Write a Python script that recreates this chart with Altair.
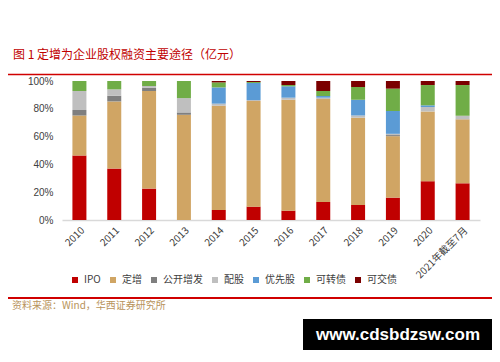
import altair as alt
import pandas as pd

years = ["2010", "2011", "2012", "2013", "2014", "2015", "2016", "2017",
         "2018", "2019", "2020", "2021年截至7月"]
categories = ["IPO", "定增", "公开增发", "配股", "优先股", "可转债", "可交债"]
colors = ["#C00000", "#D0A564", "#7F7F7F", "#BFBFBF", "#5B9BD5", "#70AD47", "#7B0000"]

ipo      = [46.4, 37.0, 22.6, 0.0, 7.2, 9.6, 6.7, 13.0, 10.8, 16.1, 27.9, 26.4]
dingzeng = [28.8, 48.3, 70.2, 75.7, 75.0, 76.0, 79.8, 74.0, 62.8, 44.2, 50.2, 46.0]
gongkai  = [3.9, 4.1, 2.4, 1.7, 0.0, 0.0, 0.0, 0.0, 0.0, 0.8, 0.0, 0.0]
peigu    = [13.7, 4.6, 1.2, 10.3, 1.5, 0.7, 1.5, 1.0, 1.6, 0.9, 3.2, 2.6]
youxian  = [0.0, 0.0, 0.0, 0.0, 11.7, 12.3, 8.2, 1.2, 11.3, 16.4, 1.2, 0.0]
kezhuan  = [7.2, 6.0, 3.6, 12.3, 3.6, 0.7, 0.9, 3.6, 9.2, 16.1, 14.6, 22.1]
kejiao   = [0.0, 0.0, 0.0, 0.0, 1.0, 0.7, 2.9, 7.2, 4.3, 5.5, 2.9, 2.9]

title_text = "图 1  定增为企业股权融资主要途径（亿元）"
source_text = "资料来源：Wind，华西证券研究所"
watermark_text = "www.cdsbdzsw.com"

series = [ipo, dingzeng, gongkai, peigu, youxian, kezhuan, kejiao]
rows = []
for ci, (cat, vals) in enumerate(zip(categories, series)):
    for y, v in zip(years, vals):
        rows.append({"year": y, "cat": cat, "value": v, "ord": ci})
df = pd.DataFrame(rows)

W, H = 418, 139
FONT = "Noto Sans CJK SC"

bars = alt.Chart(df).mark_bar(size=14).encode(
    x=alt.X("year:N", sort=years, title=None,
            scale=alt.Scale(paddingInner=0, paddingOuter=0),
            axis=alt.Axis(labelAngle=-45, ticks=False, domainColor="#D9D9D9",
                          domainWidth=1.5, labelFontSize=10, labelFont=FONT,
                          labelColor="#404040", labelPadding=5)),
    y=alt.Y("value:Q", stack="normalize", title=None,
            scale=alt.Scale(domain=[0, 1]),
            axis=alt.Axis(format=".0%", values=[0, 0.2, 0.4, 0.6, 0.8, 1.0],
                          grid=False, domain=False, ticks=False, labelFontSize=10,
                          labelFont="Liberation Sans", labelColor="#404040",
                          labelPadding=9)),
    color=alt.Color("cat:N", scale=alt.Scale(domain=categories, range=colors),
                    legend=alt.Legend(title=None, orient="none", direction="horizontal",
                                      columns=7, legendX=8, legendY=194,
                                      symbolType="square", symbolSize=36,
                                      symbolStrokeWidth=0, labelFontSize=10,
                                      labelFont=FONT, labelColor="#404040",
                                      columnPadding=7, labelOffset=4)),
    order=alt.Order("ord:Q", sort="ascending"),
)

one = pd.DataFrame({"k": [0]})

title = alt.Chart(one).mark_text(text=title_text, align="left", baseline="middle",
                                 fontSize=12, font=FONT, color="#C00000").encode(
    x=alt.value(-49), y=alt.value(-26))

top_line = alt.Chart(one).mark_rule(color="#D00000", strokeWidth=1.5).encode(
    x=alt.value(-59), x2=alt.value(434), y=alt.value(-6.5))

bottom_line = alt.Chart(one).mark_rule(color="#D00000", strokeWidth=2).encode(
    x=alt.value(-59), x2=alt.value(434), y=alt.value(217))

source = alt.Chart(one).mark_text(text=source_text, align="left", baseline="middle",
                                  fontSize=10, font=FONT, color="#B8935A").encode(
    x=alt.value(-50), y=alt.value(225))

wm_box = alt.Chart(one).mark_rect(color="#000000").encode(
    x=alt.value(241), x2=alt.value(430), y=alt.value(238), y2=alt.value(269))

wm_text = alt.Chart(one).mark_text(text=watermark_text, align="center", baseline="middle",
                                   fontSize=17, fontWeight="bold", font="Liberation Sans",
                                   color="#FFFFFF").encode(
    x=alt.value(336), y=alt.value(254))

chart = alt.layer(bars, title, top_line, bottom_line, source, wm_box, wm_text).properties(
    width=W, height=H,
    autosize=alt.AutoSizeParams(type="none"),
    padding={"left": 54, "top": 73, "right": 12, "bottom": 130},
).configure_view(stroke=None)

chart.save("out.html", embed_options={"renderer": "svg", "actions": False})
